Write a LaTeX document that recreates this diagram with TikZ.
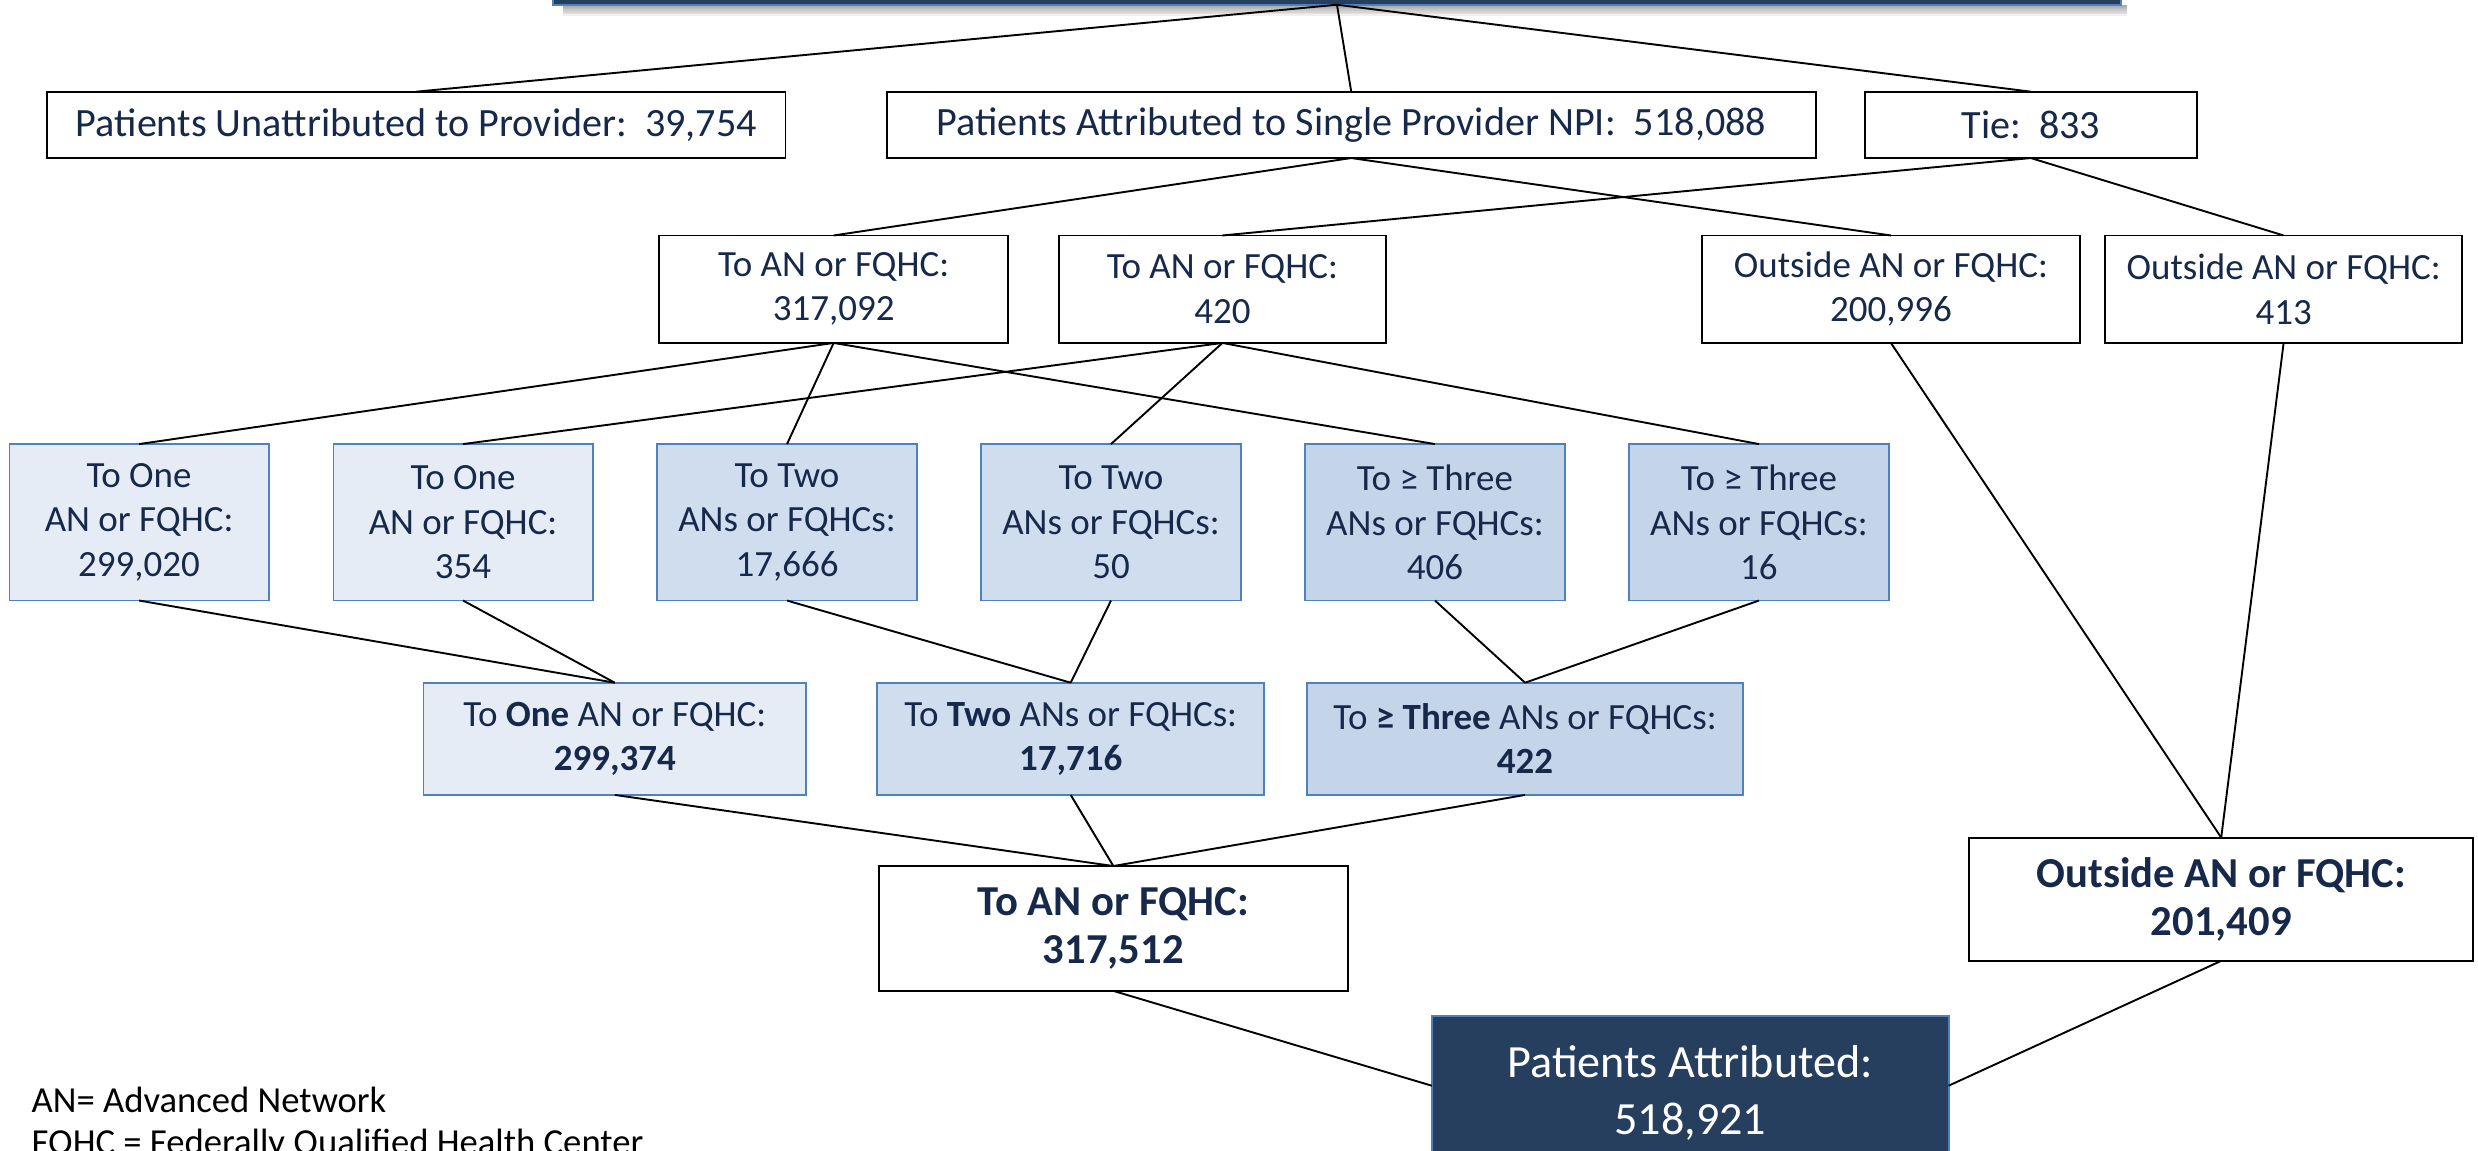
\documentclass[tikz,border=0pt]{standalone}
\usepackage{fontspec}
\setmainfont{Carlito}
\definecolor{navy}{HTML}{263F5F}
\definecolor{bord}{HTML}{4F81BD}
\definecolor{txt}{HTML}{16294A}
\definecolor{fillA}{HTML}{E6ECF6}
\definecolor{fillB}{HTML}{D0DDEE}
\definecolor{fillC}{HTML}{C5D5E9}
\newcommand\placebox[7]{\node[#1, minimum width={(#5-#3)*0.5pt}, minimum height={(#6-#4)*0.5pt}] (#2) at ({(#3+#5)/2},{(#4+#6)/2}) {#7};}
\begin{document}
\begin{tikzpicture}[x=0.5pt,y=-0.5pt,
 base/.style={rectangle, inner sep=0pt, outer sep=0pt, align=center, text=txt, font=\fontsize{11.7}{14}\selectfont},
 wbox/.style={base, draw=black, line width=0.6pt, fill=white},
 wbig/.style={wbox, font=\fontsize{12.7}{14}\selectfont},
 lightbox/.style={base, draw=bord, line width=0.6pt, fill=fillA},
 midbox/.style={base, draw=bord, line width=0.6pt, fill=fillB},
 darkbox/.style={base, draw=bord, line width=0.6pt, fill=fillC},
 boldbox/.style={wbox, font=\bfseries\fontsize{13.5}{15}\selectfont},
 navybox/.style={base, draw=bord, line width=0.6pt, fill=navy, text=white, font=\fontsize{14.6}{18}\selectfont},
 legend/.style={inner sep=0pt, outer sep=0pt, anchor=base west, text=black, font=\fontsize{11.6}{14}\selectfont},
 conn/.style={draw=black, line width=0.6pt}]
\useasboundingbox (0,0) rectangle (1568,727.7);
\clip (0,0) rectangle (1568,727.7);
% shadow of the top box
\foreach \i in {1,...,7} \fill[black, opacity=0.06] (356,3) rectangle (1346,{3+\i});
\placebox{navybox}{top}{350}{-60}{1342}{3}{}
% row 1
\placebox{wbig}{U}{30}{58}{497}{100}{Patients Unattributed to Provider:\ \ 39,754}
\placebox{wbig}{S}{561}{58}{1149}{100}{Patients Attributed to Single Provider NPI:\ \ 518,088}
\placebox{wbig}{T}{1180}{58}{1390}{100}{Tie:\ \ 833}
% row 2
\placebox{wbox}{A1}{417}{149}{638}{217}{To AN or FQHC:\\317,092}
\placebox{wbox}{A2}{670}{149}{877}{217}{To AN or FQHC:\\420}
\placebox{wbox}{O1}{1077}{149}{1316}{217}{Outside AN or FQHC:\\200,996}
\placebox{wbox}{O2}{1332}{149}{1558}{217}{Outside AN or FQHC:\\413}
% row 3
\placebox{lightbox}{B1}{6}{281}{170}{380}{To One\\AN or FQHC:\\299,020}
\placebox{lightbox}{B2}{211}{281}{375}{380}{To One\\AN or FQHC:\\354}
\placebox{midbox}{B3}{416}{281}{580}{380}{To Two\\ANs or FQHCs:\\17,666}
\placebox{midbox}{B4}{621}{281}{785}{380}{To Two\\ANs or FQHCs:\\50}
\placebox{darkbox}{B5}{826}{281}{990}{380}{To ≥ Three\\ANs or FQHCs:\\406}
\placebox{darkbox}{B6}{1031}{281}{1195}{380}{To ≥ Three\\ANs or FQHCs:\\16}
% row 4
\placebox{lightbox}{C1}{268}{432}{510}{503}{To \textbf{One} AN or FQHC:\\\textbf{299,374}}
\placebox{midbox}{C2}{555}{432}{800}{503}{To \textbf{Two} ANs or FQHCs:\\\textbf{17,716}}
\placebox{darkbox}{C3}{827}{432}{1103}{503}{To \textbf{≥ Three} ANs or FQHCs:\\\textbf{422}}
% row 5
\placebox{boldbox}{D}{556}{548}{853}{627}{To AN or FQHC:\\317,512}
\placebox{boldbox}{E}{1246}{530}{1565}{608}{Outside AN or FQHC:\\201,409}
% final
\placebox{navybox}{F}{906}{643}{1233}{740}{Patients Attributed:\\518,921}
\coordinate (Fw) at ([yshift=2.25pt]F.west);
\coordinate (Fe) at ([yshift=2.25pt]F.east);
% legend
\node[legend] (L1) at (20,704) {AN= Advanced Network};
\node[legend] (L2) at (20,730.5) {FQHC = Federally Qualified Health Center};
% connectors
\draw[conn] (top.south) -- (U.north);
\draw[conn] (top.south) -- (S.north);
\draw[conn] (top.south) -- (T.north);
\draw[conn] (S.south) -- (A1.north);
\draw[conn] (S.south) -- (O1.north);
\draw[conn] (T.south) -- (A2.north);
\draw[conn] (T.south) -- (O2.north);
\draw[conn] (A1.south) -- (B1.north);
\draw[conn] (A1.south) -- (B3.north);
\draw[conn] (A1.south) -- (B5.north);
\draw[conn] (A2.south) -- (B2.north);
\draw[conn] (A2.south) -- (B4.north);
\draw[conn] (A2.south) -- (B6.north);
\draw[conn] (B1.south) -- (C1.north);
\draw[conn] (B2.south) -- (C1.north);
\draw[conn] (B3.south) -- (C2.north);
\draw[conn] (B4.south) -- (C2.north);
\draw[conn] (B5.south) -- (C3.north);
\draw[conn] (B6.south) -- (C3.north);
\draw[conn] (C1.south) -- (D.north);
\draw[conn] (C2.south) -- (D.north);
\draw[conn] (C3.south) -- (D.north);
\draw[conn] (O1.south) -- (E.north);
\draw[conn] (O2.south) -- (E.north);
\draw[conn] (D.south) -- (Fw);
\draw[conn] (E.south) -- (Fe);
\end{tikzpicture}
\end{document}
